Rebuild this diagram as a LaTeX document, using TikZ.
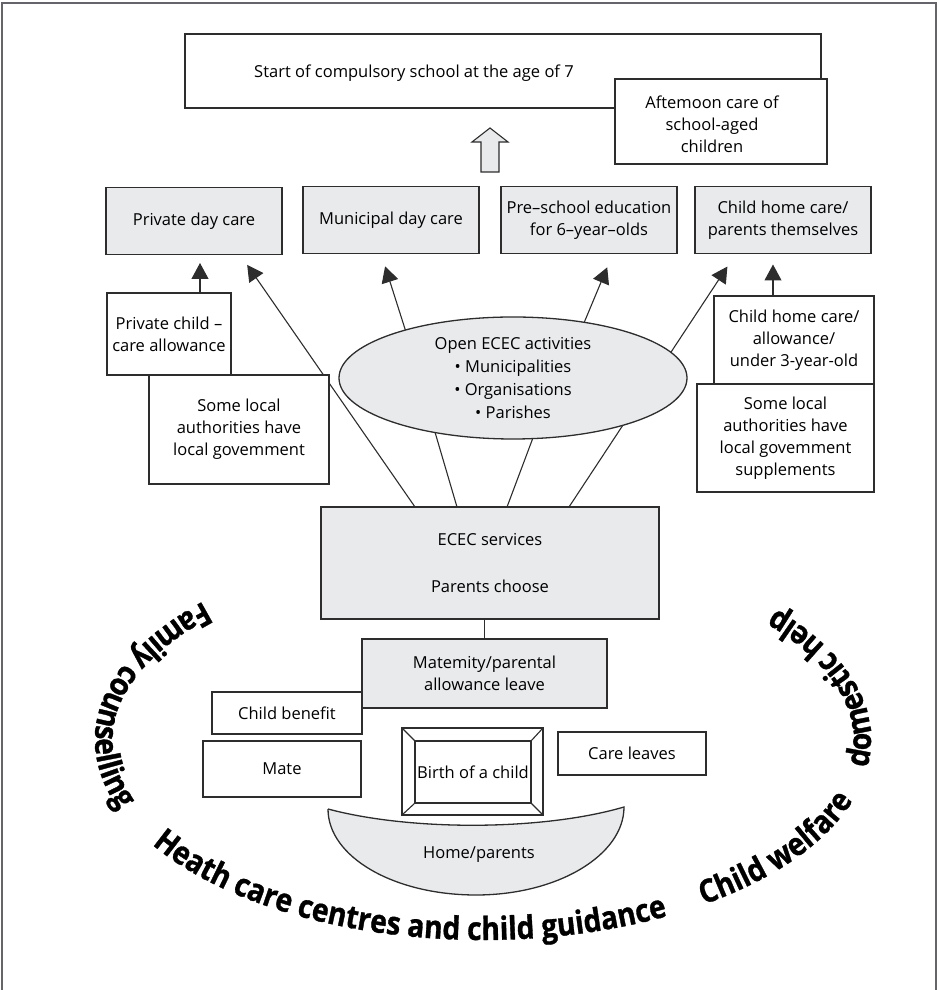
\documentclass[tikz,border=0pt]{standalone}
\usepackage{fontspec}
\setmainfont{Open Sans}
\newfontfamily\arcfont[FakeStretch=0.88, FakeBold=1]{Open Sans Bold}
\usetikzlibrary{arrows.meta, shapes.geometric, decorations.text, backgrounds}

\definecolor{boxgrey}{RGB}{233,234,236}
\definecolor{linegrey}{RGB}{45,45,45}
\definecolor{framegrey}{RGB}{100,100,106}
\newcommand{\arcstyle}{\arcfont\fontsize{32}{32}\selectfont}

\begin{document}
\begin{tikzpicture}[x=1pt, y=1pt,
  every node/.style={font=\fontsize{16.5}{22}\selectfont, align=center,
    inner sep=0pt, outer sep=0pt},
  box/.style={rectangle, draw=linegrey, line width=1.3pt, fill=white},
  greybox/.style={box, fill=boxgrey},
  carebox/.style={greybox, minimum width=176pt, minimum height=67pt},
  link/.style={draw=linegrey, line width=1.1pt},
  arr/.style={link, -{Triangle[length=16pt, width=17pt]}},
  curved/.style={decorate, decoration={text along path, text align=center,
    text={|\arcstyle|#1}}}]

  % Frame
  \useasboundingbox (0, 0) rectangle (938, 990);
  \draw[framegrey, line width=2.5pt] (2, -2) -- (2, 987) -- (936, 987) -- (936, -2);

  % School
  \node[box, minimum width=636pt, minimum height=74pt] (school) at (503, 919) {};
  \node (schooltext) at (414, 917) {Start of compulsory school at the age of 7};
  \node[box, minimum width=212pt, minimum height=85pt] (afternoon) at (721, 868.5) {};
  \node (afternoontext) at (712, 866) {Aftemoon care of\\school-aged\\children};
  \draw[linegrey, line width=1.1pt, fill=boxgrey]
     (481, 818) -- (481, 848) -- (472, 848) -- (490, 862) -- (508, 848)
     -- (499, 848) -- (499, 818) -- cycle;

  % Forms of care
  \node[carebox] (private) at (194, 769) {Private day care};
  \node[carebox] (municipal) at (391, 770) {Municipal day care};
  \node[carebox] (preschool) at (589, 770) {Pre–school education\\for 6–year–olds};
  \node[carebox] (homecare) at (783, 770) {Child home care/\\parents themselves};

  % Allowances
  \node[box, minimum width=124pt, minimum height=82pt] (privallow) at (169, 656)
    {Private child –\\care allowance};
  \node[box, minimum width=180pt, minimum height=109pt] (localL) at (239, 560.5)
    {Some local\\authorities have\\local govemment};
  \node[box, minimum width=160pt, minimum height=88pt] (homeallow) at (794, 650)
    {Child home care/\\allowance/\\under 3-year-old};
  \node[box, minimum width=177pt, minimum height=108pt] (localR) at (785.5, 552)
    {Some local\\authorities have\\local govemment\\supplements};

  % Open activities
  \node[ellipse, draw=linegrey, line width=1.3pt, fill=boxgrey,
    minimum width=348pt, minimum height=122pt,
    font=\fontsize{16.5}{23}\selectfont] (openecec) at (513, 612)
    {Open ECEC activities\\\textbullet~Municipalities\\\textbullet~Organisations\\\textbullet~Parishes};

  % Services
  \node[greybox, minimum width=338pt, minimum height=112pt] (ecec) at (490, 427)
    {ECEC services\\[25pt]Parents choose};
  \node[greybox, minimum width=245pt, minimum height=69pt] (maternity) at (484.5, 316.5)
    {Matemity/parental\\allowance leave};
  \node[box, minimum width=150pt, minimum height=42pt] (benefit) at (287, 277) {Child benefit};
  \node[box, minimum width=158pt, minimum height=56pt] (mate) at (282, 221) {Mate};
  \node[box, minimum width=148pt, minimum height=43pt] (careleaves) at (632, 236.5) {Care leaves};

  % Birth
  \node[box, minimum width=141pt, minimum height=87pt] (birth) at (472.5, 218.5) {};
  \node[box, minimum width=116pt, minimum height=62pt] (birthin) at (473, 218) {Birth of a child};
  \draw[link] (birth.north west) -- (birthin.north west);
  \draw[link] (birth.north east) -- (birthin.north east);
  \draw[link] (birth.south west) -- (birthin.south west);
  \draw[link] (birth.south east) -- (birthin.south east);

  % Home
  \draw[linegrey, line width=1.3pt, fill=boxgrey]
     (328, 181) .. controls (410, 159) and (542, 159) .. (624, 183)
     .. controls (624, 135) and (558, 95) .. (476, 95)
     .. controls (394, 95) and (328, 133) .. (328, 181);
  \node (home) at (479, 135) {Home/parents};

  % Connectors
  \begin{pgfonlayer}{background}
    \draw[arr, shorten >=8.5pt] ([xshift=31pt]privallow.north)
      -- ([xshift=31pt]privallow.north |- private.south);
    \draw[arr, shorten >=12.6pt] ([xshift=94pt]ecec.north west)
      -- ([xshift=134pt]private.south west);
    \draw[arr, shorten >=13.5pt] (openecec.156) -- ([xshift=-10pt]municipal.south);
    \draw[arr, shorten >=15pt] (openecec.38) -- ([xshift=24pt]preschool.south);
    \draw[arr, shorten >=15.6pt] ([xshift=248pt]ecec.north west)
      -- ([xshift=41pt]homecare.south west);
    \draw[arr, shorten >=11pt] ([xshift=-21pt]homeallow.north)
      -- ([xshift=-21pt]homeallow.north |- homecare.south);
    \draw[link] (openecec.215) -- ([xshift=136pt]ecec.north west);
    \draw[link] (openecec.288) -- ([xshift=186pt]ecec.north west);
    \draw[link] (maternity.north) -- (maternity.north |- ecec.south);
  \end{pgfonlayer}

  % Support round the family
  \path[curved={Family counselling}]
     (483, 250) ++(135:388 and 200) arc[start angle=135, end angle=202, x radius=388, y radius=200];
  \path[curved={Heath care centres and child guidance}]
     (483, 250) ++(208:388 and 200) arc[start angle=208, end angle=301, x radius=388, y radius=200];
  \path[curved={Child welfare}]
     (483, 250) ++(303:388 and 200) arc[start angle=303, end angle=345, x radius=388, y radius=200];
  \path[curved={domestic help}]
     (483, 250) ++(352:388 and 200) arc[start angle=352, end angle=401, x radius=388, y radius=200];
\end{tikzpicture}
\end{document}
